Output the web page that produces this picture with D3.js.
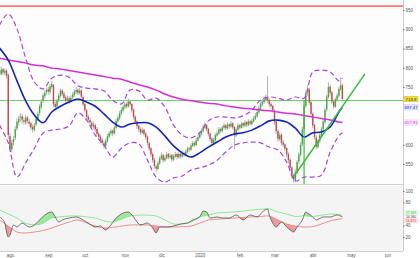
<!DOCTYPE html>
<html><head><meta charset="utf-8">
<script src="https://cdn.jsdelivr.net/npm/d3@7"></script>
<style>
body{margin:0;background:#fff}
svg{display:block}
text{font-family:"Liberation Sans",Arial,sans-serif}
</style>
</head><body>
<svg id="c" width="420" height="258"></svg>
<script>
// ---------------- DATA ----------------
const monthLabels = ["ago","sep","oct","nov","dic","2020","feb","mar","abr","may","jun"];
const monthStarts = [[2019,7],[2019,8],[2019,9],[2019,10],[2019,11],[2020,0],[2020,1],[2020,2],[2020,3],[2020,4],[2020,5]];
const priceTicks = [550,600,750,800,850,900,950];   // 650/700 hidden behind the value tags
const oscTicks = [20,40,80,100];                   // 60 hidden behind the value tags
// daily candles [open, high, low, close], first row = 23 Jul 2019 (trading days)
const ohlc = [
[785,798,778,790],[792,800,778,785],[783,802,780,795],[796,800,782,788],[787,798,780,792],[793,796,772,780],[782,785,615,625],
[622,632,582,590],[588,612,580,605],[606,622,598,615],[618,648,612,640],[642,668,636,660],[658,676,650,668],[670,682,660,672],
[674,680,655,665],[664,672,652,660],[658,676,652,670],[671,675,655,662],[660,668,648,655],[656,660,638,645],[646,652,632,640],
[638,656,634,650],[652,672,648,668],[666,686,662,680],[682,705,676,700],[698,718,692,712],[714,734,708,728],[726,742,720,735],
[737,748,730,742],[744,750,730,738],[737,758,732,752],[750,765,745,758],[755,758,698,705],[706,712,690,698],[700,720,695,715],
[716,734,710,728],[727,746,722,740],[741,744,726,732],[733,738,716,722],[723,728,708,715],[714,728,710,720],[721,726,706,712],
[711,728,708,722],[723,736,718,730],[729,744,725,738],[737,750,732,742],[743,746,728,735],[734,748,730,740],[741,744,720,725],
[724,728,700,705],[706,710,684,690],[690,694,666,672],[673,678,658,665],[664,670,650,658],[657,662,640,648],[647,660,642,652],
[651,655,634,640],[641,646,622,628],[629,634,612,620],[621,626,604,612],[613,618,598,605],[604,610,590,598],[597,616,594,610],
[609,628,605,622],[621,636,616,630],[629,642,624,636],[637,640,622,630],[629,650,626,645],[644,668,640,662],[661,676,656,670],
[669,688,664,682],[681,696,676,690],[689,704,684,698],[697,712,692,705],[706,710,694,700],[699,720,696,712],[713,716,700,705],
[706,708,684,690],[691,694,666,672],[673,676,654,660],[661,664,642,648],[649,652,634,640],[641,645,626,632],[631,645,628,638],
[639,642,622,628],[629,633,614,620],[621,624,598,605],[604,608,584,590],[591,594,568,575],[576,580,554,560],[561,566,538,545],
[544,548,530,538],[537,558,534,552],[551,570,548,565],[564,580,560,572],[573,576,554,560],[559,572,556,566],[565,582,562,575],
[576,579,562,568],[567,578,564,572],[573,576,556,562],[561,576,558,570],[569,582,566,575],[576,579,562,568],[567,582,564,576],
[577,580,564,570],[569,584,566,578],[579,582,568,574],[573,588,570,582],[581,596,578,590],[591,594,582,588],[587,604,584,598],
[597,610,594,604],[605,608,594,600],[599,618,596,612],[611,626,608,620],[619,634,616,628],[627,642,624,636],[635,652,632,645],
[644,658,640,650],[651,654,634,640],[641,644,622,628],[629,632,608,615],[616,620,598,605],[604,618,600,612],[611,630,608,625],
[624,636,620,630],[629,646,626,640],[641,644,630,636],[635,650,632,645],[644,656,640,650],[651,654,638,643],[642,658,640,652],
[653,656,642,648],[647,662,644,655],[656,658,640,645],[646,648,588,625],[624,645,620,640],[639,656,636,650],[651,654,640,645],
[644,660,642,655],[656,658,644,650],[649,664,646,658],[659,662,646,652],[651,666,648,660],[661,664,650,655],[654,668,650,662],
[661,674,658,668],[667,682,664,675],[674,692,670,685],[684,702,680,695],[694,712,690,705],[704,718,700,712],[711,726,706,718],
[717,730,712,722],[723,778,708,715],[716,720,698,705],[706,712,694,700],[701,704,684,690],[689,692,652,660],[661,664,628,635],
[636,640,608,615],[614,632,610,625],[626,630,598,605],[606,612,594,600],[601,604,584,590],[591,594,568,575],[576,580,552,560],
[561,564,532,540],[541,544,512,520],[521,526,502,510],[508,536,504,530],[528,560,524,555],[556,580,550,575],[574,606,570,600],
[601,646,596,640],[641,706,636,700],[701,742,696,735],[736,756,728,745],[744,748,704,710],[711,714,674,680],[681,684,644,650],
[651,654,614,620],[619,624,588,595],[594,614,590,610],[609,630,604,625],[624,646,620,640],[641,666,636,660],[659,696,654,690],
[691,730,686,725],[724,762,720,750],[751,756,728,735],[736,740,706,712],[713,716,694,700],[699,722,696,718],[717,734,712,728],
[727,750,722,745],[744,775,740,755],[754,760,714,718.8]
];
// sampled indicator values; positions = trading-day offset from 1 Aug 2019
const lineDays = [-6,-1,4,9,14,19,24,29,34,39,44,49,54,59,64,69,74,79,84,89,94,99,104,109,114,119,124,129,134,139,144,149,154,159,164,169,174,179,184,189,191];
const blueMA = [851,820,766,714,677,657,685,700,711,719,711,700,680,659,646,654,657,657,646,623,597,579,568,579,594,607,620,628,631,638,649,662,664,659,643,620,631,633,646,685,697.47];
const magentaMA = [825,820,816,812,807,805,799,797,793,789,785,781,777,773,770,763,756,750,742,732,724,718,714,711,708,706,701,698,695,693,690,688,685,682,680,676,672,668,664,659,657.91];
const upperBand = [911,940,901,825,763,745,773,781,775,753,747,745,740,716,706,742,740,716,721,698,651,625,618,631,662,672,672,670,675,690,716,724,721,716,724,721,789,794,789,766,774];
const lowerBand = [651,605,516,553,591,630,638,641,649,683,664,625,599,568,591,605,602,560,516,503,514,519,534,540,547,560,581,599,605,607,605,594,586,555,506,516,516,521,581,623,631];
const oscGreen = [67,60,53,44,41,44,53,55,56.5,56.5,55,53,48,46,51,56.5,58,58,56.5,49.6,42.6,42.6,46,55,58,62,62.5,63.5,65,67,68,68.7,63.5,60,55.7,57,55.7,58,60,59,57.349];
const oscRed = [49.6,39,28.7,27,28.7,31.3,35.7,41,46,49.6,44.3,39,35.7,36.5,39,41,41,41,39,37.4,37.4,38,39,44,49.6,51,52,53,54,55,55.7,56.5,49.6,42.6,39,37.4,38,42.6,48,51,51.67];
const rsiDays = [-6,-3,-2,-1,0,2,4,7,11,14,17,20,24,26,28,30,34,38,42,45,49,52,55,57,61,65,68,71,73,75,79,82,84,86,90,94,98,102,105,109,111,113,115,119,122,126,130,134,138,142,145,148,149,151,153,156,159,161,163,165,168,170,171,174,176,180,184,188,191];
const rsiVals = [54.8,44.3,28.7,20,23.5,40.9,37.4,44.3,37.4,40.9,49.6,58.3,63.5,54.8,46.1,49.6,53,54.8,49.6,44.3,37.4,39.1,32.2,37.4,53,61.7,63.5,54.8,46.1,40.9,44.3,35.7,27,37.4,37.4,39.1,42.6,44.3,49.6,54.8,65.2,63.5,53,54.8,53,53,58.3,49.6,58.3,54.8,63.5,68.7,58.3,44.3,37.4,46.1,37.4,32.2,28.7,37.4,49.6,63.5,61.7,54.8,49.6,54.8,54.8,58.3,54.8];
const resistance = 960;
const support = 715;
const trendDays = [163,204], trendVals = [517,784];
const vLineDay = 169;
const lastPrice = "718.8", blueLabel = "697.47", magentaLabel = "657.91";
const oscLabels = ["57.349","54.580","51.670"];

// ---------------- LAYOUT ----------------
const PR = 403, mainBot = 184, lowTop = 186, lowBot = 251;
const svg = d3.select("#c");
const days = [];
for (let d = new Date(2019,6,23); d <= new Date(2020,5,30); d.setDate(d.getDate()+1)) {
  const w = d.getDay(); if (w !== 0 && w !== 6) days.push(new Date(d));
}
const K0 = 7; // index of 1 Aug 2019 in days
const x = d3.scaleLinear().domain([0,217]).range([10,387.6]);
const y = d3.scaleLinear().domain([950,550]).range([10,164]);
const yo = d3.scaleLinear().domain([100,20]).range([191,237]);

const defs = svg.append("defs");
defs.append("clipPath").attr("id","cm").append("rect").attr("x",0).attr("y",0).attr("width",PR).attr("height",mainBot);
defs.append("clipPath").attr("id","cl").append("rect").attr("x",0).attr("y",lowTop).attr("width",PR).attr("height",lowBot-lowTop);

// backgrounds
svg.append("rect").attr("x",0).attr("y",0).attr("width",PR).attr("height",mainBot).attr("fill","#fdfdfd");
svg.append("rect").attr("x",0).attr("y",lowTop).attr("width",PR).attr("height",lowBot-lowTop).attr("fill","#f4f4f4");

const gm = svg.append("g").attr("clip-path","url(#cm)");
gm.append("line").attr("x1",0).attr("x2",PR).attr("y1",y(resistance)).attr("y2",y(resistance)).attr("stroke","#ff7474").attr("stroke-width",1.6);
gm.append("line").attr("x1",0).attr("x2",PR).attr("y1",y(support)).attr("y2",y(support)).attr("stroke","#6fcf6f").attr("stroke-width",1);

// candles
const candles = ohlc.map((r,j)=>({i:j-K0,o:r[0],h:r[1],l:r[2],c:r[3]}));
gm.selectAll("line.w").data(candles).join("line").attr("class","w")
  .attr("x1",d=>x(d.i)).attr("x2",d=>x(d.i)).attr("y1",d=>y(d.h)).attr("y2",d=>y(d.l))
  .attr("stroke","#a8a8a8").attr("stroke-width",0.9);
gm.selectAll("rect.b").data(candles).join("rect").attr("class","b")
  .attr("x",d=>x(d.i)-0.7).attr("width",1.4)
  .attr("y",d=>y(Math.max(d.o,d.c))).attr("height",d=>Math.max(0.6,Math.abs(y(d.o)-y(d.c))))
  .attr("fill",d=>d.c>=d.o?"#3fae3a":"#c94a4a");

const smooth = d3.curveCatmullRom.alpha(0.5);
const mkLine = (vals,ys)=>d3.line().curve(smooth).x((d,k)=>x(lineDays[k])).y(d=>ys(d))(vals);

gm.append("path").attr("d",mkLine(magentaMA,y)).attr("fill","none").attr("stroke","#d52ed5").attr("stroke-width",1.5);
[upperBand,lowerBand].forEach(b=>gm.append("path").attr("d",mkLine(b,y)).attr("fill","none")
  .attr("stroke","#a646e0").attr("stroke-width",1.2).attr("stroke-dasharray","5,3"));
gm.append("path").attr("d",mkLine(blueMA,y)).attr("fill","none").attr("stroke","#1426b8").attr("stroke-width",1.6);

gm.append("line").attr("x1",x(trendDays[0])).attr("y1",y(trendVals[0])).attr("x2",x(trendDays[1])).attr("y2",y(trendVals[1]))
  .attr("stroke","#3dbb3d").attr("stroke-width",1.5);
gm.append("line").attr("x1",x(vLineDay)).attr("x2",x(vLineDay)).attr("y1",y(support)).attr("y2",mainBot)
  .attr("stroke","#3dbb3d").attr("stroke-width",1.2);

// ---------------- OSCILLATOR ----------------
const gl = svg.append("g").attr("clip-path","url(#cl)");
const rsiPts = rsiDays.map((d,k)=>[x(d),yo(rsiVals[k])]);
const sigPts = (vals)=>lineDays.map((d,k)=>[x(d),yo(vals[k])]);
const gPts = sigPts(oscGreen), rPts = sigPts(oscRed);
const mono = d3.curveMonotoneX;
defs.append("clipPath").attr("id","aboveG").append("path")
  .attr("d",d3.area().curve(smooth).x(p=>p[0]).y0(lowTop-5).y1(p=>p[1])(gPts));
defs.append("clipPath").attr("id","belowR").append("path")
  .attr("d",d3.area().curve(smooth).x(p=>p[0]).y0(lowBot+5).y1(p=>p[1])(rPts));
gl.append("g").attr("clip-path","url(#aboveG)").append("path")
  .attr("d",d3.area().curve(mono).x(p=>p[0]).y0(lowBot+5).y1(p=>p[1])(rsiPts))
  .attr("fill","#8fe08f").attr("opacity",0.85);
gl.append("g").attr("clip-path","url(#belowR)").append("path")
  .attr("d",d3.area().curve(mono).x(p=>p[0]).y0(lowTop-5).y1(p=>p[1])(rsiPts))
  .attr("fill","#ec8a8a").attr("opacity",0.85);
gl.append("path").attr("d",d3.line().curve(smooth)(gPts)).attr("fill","none").attr("stroke","#8ee88e").attr("stroke-width",1);
gl.append("path").attr("d",d3.line().curve(smooth)(rPts)).attr("fill","none").attr("stroke","#f08c8c").attr("stroke-width",1);
gl.append("path").attr("d",d3.line().curve(mono)(rsiPts)).attr("fill","none").attr("stroke","#555").attr("stroke-width",0.8);

// borders
svg.append("line").attr("x1",0).attr("x2",PR).attr("y1",mainBot+0.5).attr("y2",mainBot+0.5).attr("stroke","#cfcfcf");
svg.append("line").attr("x1",0).attr("x2",PR).attr("y1",lowBot+0.5).attr("y2",lowBot+0.5).attr("stroke","#cfcfcf");
svg.append("line").attr("x1",PR+0.5).attr("x2",PR+0.5).attr("y1",0).attr("y2",lowBot).attr("stroke","#cfcfcf");

// ---------------- AXES ----------------
const styleAxis = g=>{ g.select(".domain").remove(); g.selectAll("text").attr("fill","#555").style("font-size","4.5px"); g.selectAll("line").attr("stroke","#777"); };
svg.append("g").attr("transform",`translate(${PR},0)`).call(d3.axisRight(y).tickValues(priceTicks).tickSize(1.5).tickPadding(1)).call(styleAxis);
svg.append("g").attr("transform",`translate(${PR},0)`).call(d3.axisRight(yo).tickValues(oscTicks).tickSize(1.5).tickPadding(1)).call(styleAxis);
const monthIdx = monthStarts.map(([yy,mm])=>days.findIndex(d=>d.getFullYear()===yy&&d.getMonth()===mm)-K0);
svg.append("g").attr("transform",`translate(0,${lowBot+1})`)
  .call(d3.axisBottom(x).tickValues(monthIdx).tickFormat((d,j)=>monthLabels[j]).tickSize(0).tickPadding(1.5)).call(styleAxis);

// value tags
function tag(yc,txt,bg,stroke,col,fs,h){
  const g = svg.append("g");
  g.append("rect").attr("x",404).attr("y",yc-h/2).attr("width",14).attr("height",h).attr("fill",bg).attr("stroke",stroke).attr("stroke-width",0.4);
  g.append("text").attr("x",411).attr("y",yc).attr("dy","0.35em").attr("text-anchor","middle").attr("fill",col).style("font-size",fs+"px").text(txt);
}
tag(y(+lastPrice),lastPrice,"#f3dc3c","#c9b000","#333",4.3,5.6);
tag(y(+blueLabel),blueLabel,"#e4e4ff","#c8c8f0","#2a2acc",4.3,5.6);
tag(y(+magentaLabel),magentaLabel,"#ffe4ff","#f0c8f0","#d92ad9",4.3,5.6);
const oy = [212.6,216.6,220.6];
tag(oy[0],oscLabels[0],"#e4ffe4","#c8f0c8","#2fc22f",3.3,3.9);
tag(oy[1],oscLabels[1],"#ffffff","#e0e0e0","#333",3.3,3.9);
tag(oy[2],oscLabels[2],"#ffe4e4","#f0c8c8","#e33",3.3,3.9);
</script>
</body></html>
